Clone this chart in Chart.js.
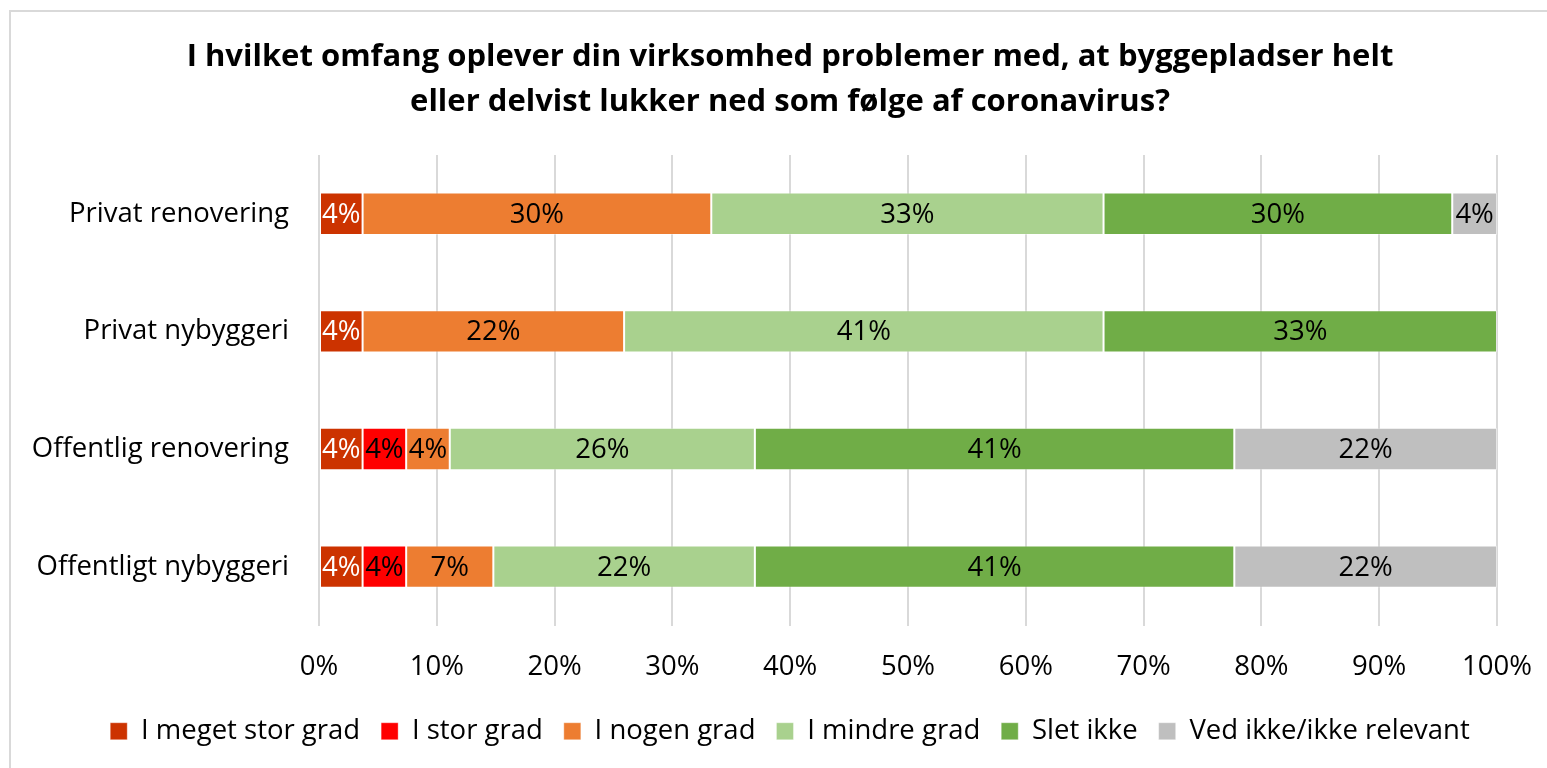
<!DOCTYPE html>
<html>
<head>
<meta charset="utf-8">
<script src="https://cdn.jsdelivr.net/npm/chart.js@4.4.1/dist/chart.umd.min.js"></script>
<style>
    html, body { margin: 0; padding: 0; background: #fff; overflow: hidden; }
    #wrap {
        position: absolute; left: 9px; top: 10px;
        width: 1562px; height: 800px;
        border: 2px solid #d9d9d9; box-sizing: border-box;
    }
    #chart { display: block; }
</style>
</head>
<body>
<div id="wrap"><canvas id="chart" width="1558" height="756"></canvas></div>
<script>
// categories and series (percent of respondents)
const categories = ['Privat renovering', 'Privat nybyggeri', 'Offentlig renovering', 'Offentligt nybyggeri'];
const seriesNames = ['I meget stor grad', 'I stor grad', 'I nogen grad', 'I mindre grad', 'Slet ikke', 'Ved ikke/ikke relevant'];
const meGetStor = [3.7, 3.7, 3.7, 3.7];
const stor = [0, 0, 3.7, 3.7];
const nogen = [29.6, 22.2, 3.7, 7.4];
const mindre = [33.3, 40.7, 25.9, 22.2];
const sletIkke = [29.6, 33.4, 40.7, 40.7];
const vedIkke = [3.8, 0, 22.3, 22.3];
const xTicks = [0, 10, 20, 30, 40, 50, 60, 70, 80, 90, 100];

const colors = ['#CC3300', '#FF0000', '#ED7D31', '#A9D18E', '#70AD47', '#BFBFBF'];
const labelColors = ['#ffffff', '#000000', '#000000', '#000000', '#000000', '#000000'];
const FONT = '"Open Sans", Lato, sans-serif';
const FS = 27.5;

const values = [meGetStor, stor, nogen, mindre, sletIkke, vedIkke];

const segLabels = {
    id: 'segLabels',
    afterDatasetsDraw(chart) {
        const ctx = chart.ctx;
        ctx.save();
        ctx.font = FS + 'px ' + FONT;
        ctx.textAlign = 'center';
        ctx.textBaseline = 'middle';
        chart.data.datasets.forEach((ds, i) => {
            chart.getDatasetMeta(i).data.forEach((bar, j) => {
                const v = ds.data[j];
                if (!v) return;
                const p = bar.getProps(['x', 'y', 'base'], true);
                ctx.fillStyle = labelColors[i];
                ctx.fillText(Math.round(v) + '%', (p.x + p.base) / 2, p.y + 1);
            });
        });
        ctx.restore();
    }
};

new Chart(document.getElementById('chart'), {
    type: 'bar',
    data: {
        labels: categories,
        datasets: seriesNames.map((name, i) => ({
            label: name,
            data: values[i],
            backgroundColor: colors[i],
            borderColor: 'rgba(255,255,255,0.35)',
            borderWidth: 1,
            borderSkipped: false,
            barPercentage: 1,
            categoryPercentage: 0.36
        }))
    },
    options: {
        indexAxis: 'y',
        responsive: false,
        animation: false,
        layout: { padding: { left: 0, right: 0, top: 0, bottom: 13 } },
        scales: {
            x: {
                stacked: true,
                min: 0, max: 100,
                afterBuildTicks: (s) => { s.ticks = xTicks.map(v => ({ value: v })); },
                afterFit: (s) => { s.height = 71; },
                grid: { color: '#d9d9d9', lineWidth: 2, drawTicks: false },
                border: { display: false },
                ticks: {
                    padding: 25,
                    color: '#000',
                    font: { family: FONT, size: FS },
                    callback: (v) => v + '%'
                }
            },
            y: {
                stacked: true,
                afterFit: (s) => { s.width = 308; },
                grid: { display: false, drawTicks: false },
                border: { display: false },
                ticks: {
                    padding: 30,
                    color: '#000',
                    font: { family: FONT, size: FS }
                }
            },
            // empty right-hand axis, only reserves room so the plot ends at 100%
            yRight: {
                type: 'category',
                position: 'right',
                afterFit: (s) => { s.width = 72; },
                grid: { display: false, drawTicks: false },
                border: { display: false },
                ticks: { display: false }
            }
        },
        plugins: {
            title: {
                display: true,
                text: ['I hvilket omfang oplever din virksomhed problemer med, at byggepladser helt',
                       'eller delvist lukker ned som følge af coronavirus?'],
                color: '#000',
                font: { family: FONT, size: 31, weight: 'bold', lineHeight: 1.45 },
                padding: { top: 23, bottom: 30 }
            },
            legend: {
                position: 'bottom',
                labels: {
                    color: '#000',
                    font: { family: FONT, size: FS },
                    boxWidth: 17,
                    boxHeight: 17,
                    padding: 21
                }
            },
            tooltip: { enabled: false }
        }
    },
    plugins: [segLabels]
});
</script>
</body>
</html>
